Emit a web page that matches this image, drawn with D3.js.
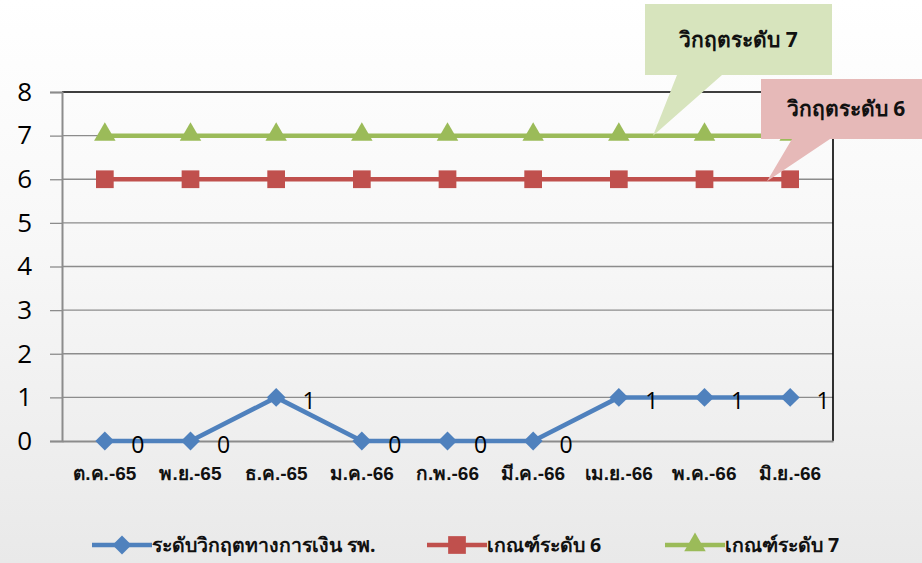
<!DOCTYPE html>
<html>
<head>
<meta charset="utf-8">
<script src="https://cdn.jsdelivr.net/npm/d3@7"></script>
<style>
  html, body { margin: 0; padding: 0; }
  body { width: 922px; height: 563px; overflow: hidden; }
  svg { display: block; font-family: "Noto Sans", "Open Sans", "DejaVu Sans", sans-serif; }
</style>
</head>
<body>
<svg id="chart" width="922" height="563"></svg>
<script>
// Monthly hospital financial-crisis level vs. level-6 / level-7 thresholds
const months = ["ต.ค.-65", "พ.ย.-65", "ธ.ค.-65", "ม.ค.-66", "ก.พ.-66", "มี.ค.-66", "เม.ย.-66", "พ.ค.-66", "มิ.ย.-66"];
const crisisLevel = [0, 0, 1, 0, 0, 0, 1, 1, 1];
const threshold6 = [6, 6, 6, 6, 6, 6, 6, 6, 6];
const threshold7 = [7, 7, 7, 7, 7, 7, 7, 7, 7];
const yTicks = [0, 1, 2, 3, 4, 5, 6, 7, 8];
const seriesNames = ["ระดับวิกฤตทางการเงิน รพ.", "เกณฑ์ระดับ 6", "เกณฑ์ระดับ 7"];
const calloutTexts = ["วิกฤตระดับ 7", "วิกฤตระดับ 6"];

const W = 922, H = 563;
const plot = { left: 62, right: 833, top: 92, bottom: 441 };
const svg = d3.select("#chart");

// background gradient
const defs = svg.append("defs");
const grad = defs.append("linearGradient").attr("id", "bg").attr("x1", 0).attr("y1", 0).attr("x2", 0).attr("y2", 1);
grad.append("stop").attr("offset", "0%").attr("stop-color", "#ffffff");
grad.append("stop").attr("offset", "45%").attr("stop-color", "#f7f7f7");
grad.append("stop").attr("offset", "100%").attr("stop-color", "#e9e9e9");
svg.append("rect").attr("width", W).attr("height", H).attr("fill", "url(#bg)");

const x = d3.scaleBand().domain(months).range([plot.left, plot.right]);
const xc = d => x(d) + x.bandwidth() / 2;
const y = d3.scaleLinear().domain([0, 8]).range([plot.bottom, plot.top]);

// grid lines
svg.append("g").selectAll("line").data(yTicks.filter(t => t > 0 && t < 8)).join("line")
  .attr("x1", plot.left).attr("x2", plot.right)
  .attr("y1", d => y(d)).attr("y2", d => y(d))
  .attr("stroke", "#8c8c8c").attr("stroke-width", 1.3);

// plot border (top / right)
svg.append("path")
  .attr("d", `M${plot.left},${plot.top}H${plot.right}V${plot.bottom}`)
  .attr("fill", "none").attr("stroke", "#000").attr("stroke-width", 1.6);

// y axis
const yAxis = d3.axisLeft(y).tickValues(yTicks).tickSize(12).tickPadding(16).tickFormat(d3.format("d"));
const gy = svg.append("g").attr("transform", `translate(${plot.left},0)`).call(yAxis);
gy.select(".domain").attr("stroke", "#8c8c8c").attr("stroke-width", 2);
gy.selectAll(".tick line").attr("stroke", "#8c8c8c").attr("stroke-width", 1.3);
gy.selectAll(".tick text").attr("fill", "#000").attr("font-size", 26).attr("font-weight", 500)
  .attr("font-family", "'Open Sans', 'Noto Sans', sans-serif").attr("x", -30);

// x axis line
const xAxis = d3.axisBottom(x).tickSize(0).tickPadding(22);
const gx = svg.append("g").attr("transform", `translate(0,${plot.bottom})`).call(xAxis);
gx.select(".domain").attr("stroke", "#8c8c8c").attr("stroke-width", 2);
gx.selectAll(".tick text").attr("fill", "#111").attr("font-size", 19).attr("font-weight", 700)
  .attr("dy", "0.9em");

const series = [
  { name: seriesNames[0], values: crisisLevel, color: "#4f81bd", marker: "diamond" },
  { name: seriesNames[1], values: threshold6, color: "#c0504d", marker: "square" },
  { name: seriesNames[2], values: threshold7, color: "#9bbb59", marker: "triangle" }
];

const markerPath = {
  diamond: d3.symbol().type(d3.symbolDiamond2).size(230),
  square: d3.symbol().type(d3.symbolSquare2).size(400),
  triangle: d3.symbol().type(d3.symbolTriangle2).size(330)
};

const line = d3.line().x(d => xc(d.m)).y(d => y(d.v));

// draw in reverse so the crisis-level series sits on top
[...series].reverse().forEach(s => {
  const pts = months.map((m, i) => ({ m, v: s.values[i] }));
  const g = svg.append("g");
  g.append("path").datum(pts).attr("d", line)
    .attr("fill", "none").attr("stroke", s.color).attr("stroke-width", 4.5).attr("stroke-linejoin", "round");
  g.selectAll("path.mk").data(pts).join("path").attr("class", "mk")
    .attr("transform", d => `translate(${xc(d.m)},${y(d.v) + (s.marker === "triangle" ? -1 : 0)})`)
    .attr("d", markerPath[s.marker]())
    .attr("fill", s.color);
});

// value labels for crisis level
svg.append("g").selectAll("text").data(months.map((m, i) => ({ m, v: crisisLevel[i] }))).join("text")
  .attr("x", d => xc(d.m) + 33).attr("y", d => y(d.v) + 12)
  .attr("text-anchor", "middle").attr("font-size", 23)
  .attr("font-family", "'Open Sans', 'Noto Sans', sans-serif")
  .attr("fill", "#000").text(d => d.v);

// callouts
function callout(box, tailBase, tip, fill, text) {
  const g = svg.append("g");
  g.append("path")
    .attr("d", `M${box.x},${box.y}H${box.x + box.w}V${box.y + box.h}H${tailBase[1]}L${tip[0]},${tip[1]}L${tailBase[0]},${box.y + box.h}H${box.x}Z`)
    .attr("fill", fill);
  g.append("text").attr("x", box.x + box.w / 2).attr("y", box.y + box.h / 2 + 7)
    .attr("text-anchor", "middle").attr("font-size", 21).attr("font-weight", 700).attr("fill", "#111")
    .text(text);
}
callout({ x: 645, y: 4, w: 187, h: 71 }, [677, 722], [653, y(threshold7[6])], "#d7e4bd", calloutTexts[0]);
callout({ x: 761, y: 79, w: 170, h: 60 }, [792, 830], [767, y(threshold6[8]) + 2], "#e6b9b8", calloutTexts[1]);

// legend
const legendX = [92, 427, 665];
const lg = svg.append("g");
series.forEach((s, i) => {
  const g = lg.append("g").attr("transform", `translate(${legendX[i]},545)`);
  g.append("line").attr("x1", 0).attr("x2", 60).attr("stroke", s.color).attr("stroke-width", 4.5);
  g.append("path").attr("transform", "translate(30,0)").attr("d", markerPath[s.marker]()).attr("fill", s.color);
  g.append("text").attr("x", 60).attr("y", 7).attr("font-size", 19.5).attr("font-weight", 700).attr("fill", "#111")
    .text(s.name);
});
</script>
</body>
</html>
